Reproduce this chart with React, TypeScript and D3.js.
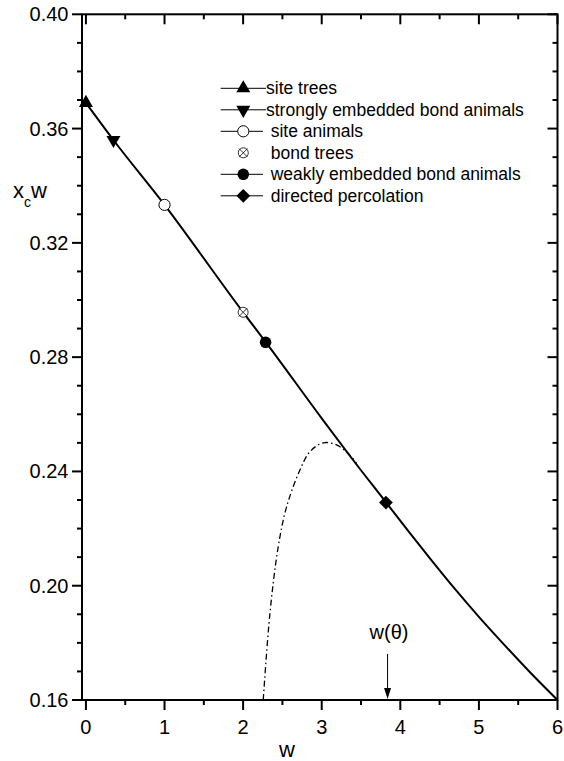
import React from "react";
import * as d3 from "d3";

// main curve x_c w vs w
const curveW = [0, 0.35, 1, 2, 2.29, 3.0, 3.36, 3.82, 4.1, 4.4, 4.7, 5.0, 5.3, 5.65, 6];
const curveY = [0.369, 0.356, 0.3333, 0.2957, 0.2852, 0.2586, 0.2454, 0.2291, 0.2192, 0.2088, 0.1987, 0.1891, 0.18, 0.1697, 0.16];

// dash-dot approximation curve
const dashW = [2.256, 2.341, 2.447, 2.553, 2.723, 2.85, 3.02, 3.19, 3.359, 3.444];
const dashY = [0.16, 0.1903, 0.2137, 0.2276, 0.2405, 0.2469, 0.25, 0.2493, 0.2457, 0.2428];

// marked points
const markerNames = [
  "site trees",
  "strongly embedded bond animals",
  "site animals",
  "bond trees",
  "weakly embedded bond animals",
  "directed percolation",
];
const markerW = [0, 0.35, 1, 2, 2.286, 3.817];
const markerY = [0.369, 0.356, 0.3333, 0.2957, 0.2852, 0.2291];
const markerSym = ["triUp", "triDown", "openCircle", "crossCircle", "filledCircle", "diamond"];
const legendHasLine = [true, true, true, false, true, true];

const xTicks = [0, 1, 2, 3, 4, 5, 6];
const xMinor = [0.5, 1.5, 2.5, 3.5, 4.5, 5.5];
const yTicks = [0.16, 0.2, 0.24, 0.28, 0.32, 0.36, 0.4];
const yMinor = [0.17, 0.18, 0.19, 0.21, 0.22, 0.23, 0.25, 0.26, 0.27, 0.29, 0.3, 0.31, 0.33, 0.34, 0.35, 0.37, 0.38, 0.39];

const wTheta = 3.838;

const FONT = "'Liberation Sans', Arial, Helvetica, sans-serif";

function Marker({ sym, cx, cy }: { sym: string; cx: number; cy: number }) {
  if (sym === "triUp" || sym === "triDown") {
    const p = d3.symbol().type(d3.symbolTriangle).size(85)() as string;
    return (
      <path d={p} transform={`translate(${cx},${cy}) rotate(${sym === "triDown" ? 180 : 0})`} fill="#000" />
    );
  }
  if (sym === "openCircle") {
    return <circle cx={cx} cy={cy} r={5.6} fill="#fff" stroke="#000" strokeWidth={1} />;
  }
  if (sym === "filledCircle") {
    return <circle cx={cx} cy={cy} r={5.8} fill="#000" />;
  }
  if (sym === "crossCircle") {
    const r = 5;
    const d = r * 0.85;
    return (
      <g>
        <circle cx={cx} cy={cy} r={r} fill="#fff" stroke="#000" strokeWidth={0.8} />
        <path
          d={`M${cx - d},${cy - d}L${cx + d},${cy + d}M${cx - d},${cy + d}L${cx + d},${cy - d}`}
          stroke="#000"
          strokeWidth={0.8}
        />
      </g>
    );
  }
  const p = d3.symbol().type(d3.symbolSquare).size(95)() as string;
  return <path d={p} transform={`translate(${cx},${cy}) rotate(45)`} fill="#000" />;
}

export default function App() {
  const W = 564;
  const H = 761;
  const x = d3.scaleLinear().domain([-0.05, 6]).range([82, 557.5]);
  const y = d3.scaleLinear().domain([0.16, 0.4]).range([700, 14.3]);
  const [x0, x1] = x.range();
  const [y0, y1] = y.range();

  const line = d3
    .line<number>()
    .x((_, i) => x(curveW[i]))
    .y((d) => y(d))
    .curve(d3.curveMonotoneX);
  const dashLine = d3
    .line<number>()
    .x((_, i) => x(dashW[i]))
    .y((d) => y(d))
    .curve(d3.curveCatmullRom.alpha(0.5));

  const legX0 = 220.7;
  const legSym = 243.3;
  const legY0 = 88.3;
  const legDy = 21.5;

  return (
    <svg
      width={W}
      height={H}
      style={{ position: "absolute", left: 0, top: 0, background: "#fff" }}
      fontFamily={FONT}
    >
      <rect x={0} y={0} width={W} height={H} fill="#fff" />
      {/* curves */}
      <path d={dashLine(dashY) as string} fill="none" stroke="#000" strokeWidth={1.3} strokeDasharray="6,3,1.5,3" />
      <path d={line(curveY) as string} fill="none" stroke="#000" strokeWidth={2} />

      {/* frame */}
      <rect x={x0} y={y1} width={x1 - x0} height={y0 - y1} fill="none" stroke="#000" strokeWidth={2} />

      {/* x ticks */}
      {xTicks.map((t) => (
        <g key={"xt" + t}>
          <line x1={x(t)} x2={x(t)} y1={y0} y2={y0 + 10} stroke="#000" strokeWidth={2} />
          <line x1={x(t)} x2={x(t)} y1={y1} y2={y1 + 10} stroke="#000" strokeWidth={2} />
          <text x={x(t)} y={733.5} textAnchor="middle" fontSize={20}>
            {t}
          </text>
        </g>
      ))}
      {xMinor.map((t) => (
        <g key={"xm" + t}>
          <line x1={x(t)} x2={x(t)} y1={y0} y2={y0 + 5} stroke="#000" strokeWidth={2} />
          <line x1={x(t)} x2={x(t)} y1={y1} y2={y1 + 5} stroke="#000" strokeWidth={2} />
        </g>
      ))}
      {/* y ticks */}
      {yTicks.map((t) => (
        <g key={"yt" + t}>
          <line x1={x0} x2={x0 - 10} y1={y(t)} y2={y(t)} stroke="#000" strokeWidth={2} />
          <line x1={x1} x2={x1 - 10} y1={y(t)} y2={y(t)} stroke="#000" strokeWidth={2} />
          <text x={68.5} y={y(t)} textAnchor="end" dominantBaseline="central" fontSize={20}>
            {d3.format(".2f")(t)}
          </text>
        </g>
      ))}
      {yMinor.map((t) => (
        <g key={"ym" + t}>
          <line x1={x0} x2={x0 - 5} y1={y(t)} y2={y(t)} stroke="#000" strokeWidth={2} />
          <line x1={x1} x2={x1 - 5} y1={y(t)} y2={y(t)} stroke="#000" strokeWidth={2} />
        </g>
      ))}

      {/* axis labels */}
      <text x={287} y={757} textAnchor="middle" fontSize={22}>
        w
      </text>
      <text x={13} y={197.5} fontSize={22}>
        x
        <tspan fontSize={14} dy={9}>
          c
        </tspan>
        <tspan dy={-9}>w</tspan>
      </text>

      {/* w(theta) arrow */}
      <text x={389} y={639} textAnchor="middle" fontSize={20}>
        w(θ)
      </text>
      <line x1={x(wTheta)} x2={x(wTheta)} y1={654} y2={692} stroke="#000" strokeWidth={1} />
      <path
        d={`M${x(wTheta) - 3.5},${688}L${x(wTheta) + 3.5},${688}L${x(wTheta)},${699}Z`}
        fill="#000"
      />

      {/* markers */}
      {markerW.map((w, i) => (
        <Marker key={"m" + i} sym={markerSym[i]} cx={x(w)} cy={y(markerY[i])} />
      ))}

      {/* legend */}
      {markerNames.map((name, i) => {
        const ly = legY0 + i * legDy;
        const tightText = i < 2;
        return (
          <g key={"lg" + i}>
            {legendHasLine[i] && (
              <line x1={legX0} x2={tightText ? 266 : 263} y1={ly} y2={ly} stroke="#000" strokeWidth={1} />
            )}
            <Marker sym={markerSym[i]} cx={legSym} cy={ly} />
            <text x={tightText ? 266 : 270.7} y={ly} dominantBaseline="central" fontSize={17.5}>
              {name}
            </text>
          </g>
        );
      })}
    </svg>
  );
}
